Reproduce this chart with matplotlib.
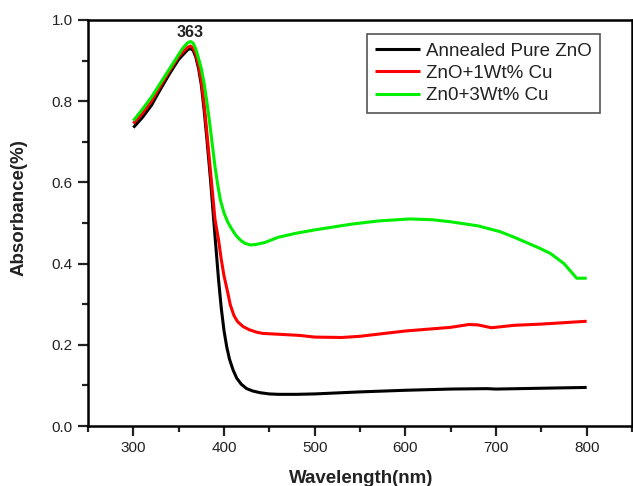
import matplotlib
matplotlib.use("Agg")
import matplotlib.pyplot as plt
from matplotlib.ticker import MultipleLocator

plt.rcParams['font.family'] = ['Liberation Sans', 'DejaVu Sans']

# Data
wl_black = [300, 310, 320, 330, 340, 350, 355, 360, 363, 366, 369, 372, 375, 378, 381, 385, 390, 394, 397, 400,
            403, 406, 410, 414, 419, 425, 432, 440, 450, 460, 480, 500, 550, 600, 650, 690, 700, 750, 800]
abs_black = [0.735, 0.76, 0.79, 0.83, 0.868, 0.903, 0.915, 0.927, 0.930, 0.925, 0.908, 0.88, 0.84, 0.78, 0.71,
             0.61, 0.47, 0.36, 0.29, 0.235, 0.195, 0.165, 0.138, 0.118, 0.103, 0.092, 0.086, 0.082, 0.079, 0.078,
             0.078, 0.079, 0.084, 0.088, 0.091, 0.092, 0.091, 0.093, 0.095]

wl_red = [300, 310, 320, 330, 340, 350, 355, 360, 363, 366, 369, 372, 375, 378, 381, 385, 390, 394, 397, 400,
          404, 407, 411, 415, 421, 428, 436, 443, 460, 484, 500, 530, 550, 600, 650, 670, 680, 695, 720, 750, 800]
abs_red = [0.745, 0.77, 0.80, 0.838, 0.875, 0.91, 0.922, 0.933, 0.936, 0.931, 0.915, 0.888, 0.85, 0.795, 0.725,
           0.63, 0.51, 0.458, 0.41, 0.37, 0.33, 0.298, 0.272, 0.257, 0.245, 0.237, 0.231, 0.228, 0.226, 0.223,
           0.219, 0.218, 0.221, 0.234, 0.243, 0.25, 0.249, 0.242, 0.248, 0.251, 0.258]

wl_green = [300, 310, 320, 330, 340, 350, 355, 360, 363, 366, 369, 372, 375, 378, 381, 384, 387, 390, 393, 396,
            400, 404, 408, 413, 418, 423, 429, 435, 445, 460, 480, 500, 540, 570, 605, 630, 650, 680, 704, 720,
            748, 760, 775, 789, 800]
abs_green = [0.752, 0.78, 0.81, 0.845, 0.88, 0.915, 0.932, 0.944, 0.947, 0.943, 0.928, 0.905, 0.88, 0.845, 0.80,
             0.75, 0.695, 0.64, 0.595, 0.557, 0.525, 0.503, 0.487, 0.47, 0.458, 0.45, 0.446, 0.447, 0.452, 0.465,
             0.475, 0.483, 0.497, 0.505, 0.51, 0.508, 0.503, 0.493, 0.479, 0.465, 0.438, 0.425, 0.40, 0.364, 0.364]

labels = ["Annealed Pure ZnO", "ZnO+1Wt% Cu", "Zn0+3Wt% Cu"]
colors = ["#000000", "#ff0000", "#00ee00"]

W, H = 633, 486
fig = plt.figure(figsize=(W / 100, H / 100), dpi=100)
ax = fig.add_axes([88 / W, 1 - 426 / H, (632 - 88) / W, (426 - 20) / H])

for wl, ab, c, lab in [(wl_black, abs_black, colors[0], labels[0]),
                       (wl_red, abs_red, colors[1], labels[1]),
                       (wl_green, abs_green, colors[2], labels[2])]:
    ax.plot(wl, ab, color=c, lw=2.2, label=lab, solid_joinstyle='round', solid_capstyle='butt')

ax.set_xlim(250, 850)
ax.set_ylim(0.0, 1.0)
ax.xaxis.set_major_locator(MultipleLocator(100))
ax.xaxis.set_minor_locator(MultipleLocator(50))
ax.yaxis.set_major_locator(MultipleLocator(0.2))
ax.yaxis.set_minor_locator(MultipleLocator(0.1))
ax.set_xticks([300, 400, 500, 600, 700, 800])
ax.tick_params(which='both', direction='out', top=False, right=False, width=1.6, colors='#222222',
               labelsize=11)
ax.tick_params(which='major', length=7, pad=4)
ax.tick_params(which='minor', length=4)
for s in ax.spines.values():
    s.set_linewidth(1.8)

ax.text(363, 0.958, "363", ha='center', va='baseline', fontsize=11.5, fontweight='bold', color='#222222')

fig.text(361 / W, 1 - 478 / H, "Wavelength(nm)", ha='center', va='center', fontsize=13.5, fontweight='bold',
         color='#222222')
fig.text(19 / W, 1 - 208 / H, "Absorbance(%)", ha='center', va='center', rotation=90, fontsize=13.5,
         fontweight='bold', color='#222222')

leg = ax.legend(loc='upper right', bbox_to_anchor=(600 / W, 1 - 34 / H), bbox_transform=fig.transFigure,
                borderaxespad=0, fontsize=13.5, fancybox=False, edgecolor='#555555', framealpha=1,
                handlelength=2.4, handletextpad=0.3, labelspacing=0.28, borderpad=0.45)
leg.get_frame().set_linewidth(1.2)
for t in leg.get_texts():
    t.set_color('#222222')

fig.savefig("out.png", dpi=100)
